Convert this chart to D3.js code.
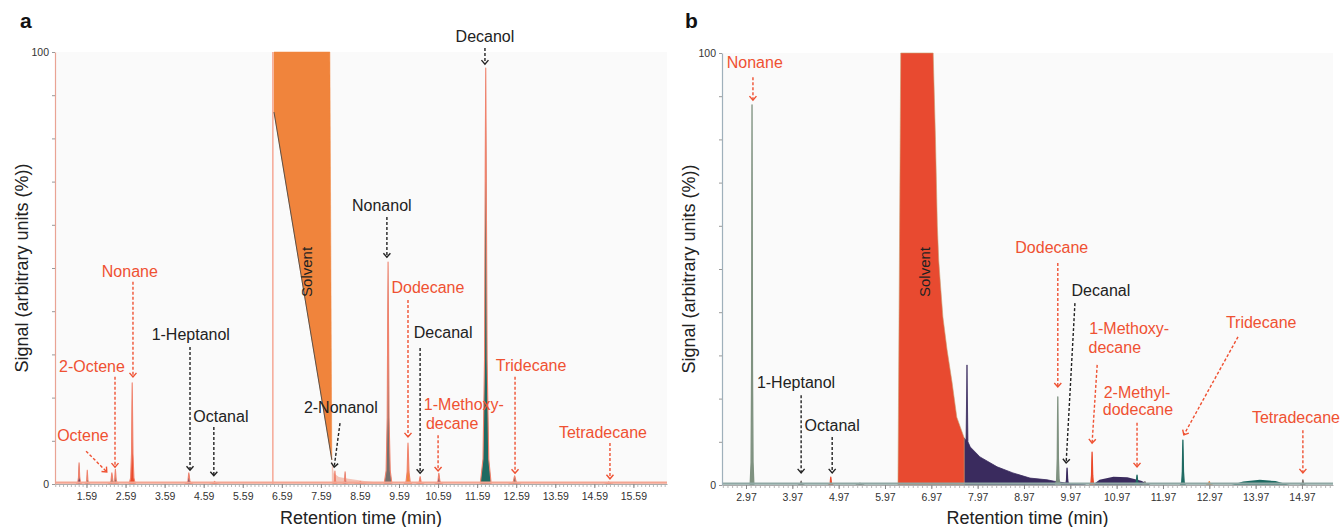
<!DOCTYPE html>
<html>
<head>
<meta charset="utf-8">
<script src="https://cdn.jsdelivr.net/npm/d3@7"></script>
<style>
	body { margin: 0; background: #fff; }
	text { font-family: "Liberation Sans", Arial, Helvetica, sans-serif; }
</style>
</head>
<body>
<svg id="chart" width="1340" height="527"></svg>
<script>

	// tick labels (retention time, min)
	var ticksA = [1.59, 2.59, 3.59, 4.59, 5.59, 6.59, 7.59, 8.59, 9.59, 10.59, 11.59, 12.59, 13.59, 14.59, 15.59];
	var ticksB = [2.97, 3.97, 4.97, 5.97, 6.97, 7.97, 8.97, 9.97, 10.97, 11.97, 12.97, 13.97, 14.97];
	var yLabels = [0, 100];

	// peaks: retention time (min), signal (%), half width (min), trace
	var peaksA = [
		{t: 1.40, h: 4.9, w: 0.07, s: "navy"},
		{t: 1.61, h: 3.2, w: 0.06, s: "teal"},
		{t: 2.24, h: 2.6, w: 0.10, s: "grey"},
		{t: 2.33, h: 3.4, w: 0.08, s: "grey"},
		{t: 2.76, h: 23.4, w: 0.08, s: "red"},
		{t: 4.21, h: 2.6, w: 0.10, s: "navy"},
		{t: 4.87, h: 0.6, w: 0.12, s: "grey"},
		{t: 7.95, h: 3.0, w: 0.05, s: "red"},
		{t: 8.21, h: 2.8, w: 0.06, s: "navy"},
		{t: 8.60, h: 0.6, w: 0.15, s: "grey"},
		{t: 9.31, h: 51.4, w: 0.10, s: "grey"},
		{t: 9.82, h: 9.5, w: 0.10, s: "orange"},
		{t: 10.13, h: 1.7, w: 0.10, s: "red"},
		{t: 10.61, h: 2.5, w: 0.10, s: "navy"},
		{t: 11.81, h: 96.3, w: 0.14, s: "teal"},
		{t: 12.55, h: 1.9, w: 0.15, s: "grey"},
		{t: 14.96, h: 0.5, w: 0.10, s: "grey"}
	];
	var solventA = [[6.39, 86.1], [6.39, 100], [7.82, 100], [7.87, 5.6]];
	var solventEdgeA = 6.36;
	var tailA = [[7.87, 0], [7.87, 5.6], [7.92, 2.5], [8.05, 1.6], [8.3, 1.2], [8.7, 0.7], [9.1, 0.3], [9.3, 0]];

	var peaksB = [
		{t: 3.10, h: 88.0, w: 0.04, s: "sage"},
		{t: 4.16, h: 0.9, w: 0.06, s: "grey"},
		{t: 4.80, h: 1.8, w: 0.05, s: "red"},
		{t: 5.43, h: 0.4, w: 0.08, s: "grey"},
		{t: 9.70, h: 20.4, w: 0.05, s: "sage"},
		{t: 9.90, h: 3.9, w: 0.05, s: "navy"},
		{t: 10.44, h: 7.6, w: 0.05, s: "red"},
		{t: 11.41, h: 2.3, w: 0.06, s: "teal"},
		{t: 11.58, h: 0.8, w: 0.05, s: "grey"},
		{t: 12.40, h: 10.4, w: 0.05, s: "teal"},
		{t: 12.97, h: 0.8, w: 0.06, s: "orange"},
		{t: 14.99, h: 1.2, w: 0.05, s: "grey"}
	];
	var solventB = [[6.25, 0], [6.31, 100], [7.01, 100], [7.06, 80], [7.10, 60], [7.13, 52], [7.17, 46],
		[7.22, 38.9], [7.31, 31.3], [7.42, 23.6], [7.52, 15.7], [7.68, 10.9], [7.68, 0]];
	var tailB = [[7.68, 0], [7.68, 10.9], [7.72, 10.3], [7.74, 27.8], [7.76, 10.0], [7.81, 8.8], [8.02, 6.5],
		[8.39, 4.2], [8.73, 2.8], [9.10, 1.6], [9.47, 1.2], [9.70, 0.7], [10.0, 0.3], [10.3, 0]];
	var humpsB = [
		{s: "navy", pts: [[10.45, 0], [10.6, 1.2], [10.9, 1.9], [11.2, 1.8], [11.5, 1.0], [11.7, 0]]},
		{s: "teal", pts: [[13.45, 0], [13.7, 0.8], [14.06, 1.2], [14.4, 0.9], [14.7, 0]]}
	];

	// annotations: kind "hc" = hydrocarbon (red), "ox" = alcohol / aldehyde (black)
	var labelsA = [
		{kind: "ox", lines: [["Decanol", 11.79, 103.5]], arrow: [11.79, 100.9, 11.79, 97.2]},
		{kind: "ox", lines: [["Nonanol", 9.15, 64.4]], arrow: [9.28, 61.8, 9.28, 52.5]},
		{kind: "hc", lines: [["Nonane", 2.70, 49.3]], arrow: [2.78, 46.8, 2.78, 24.8]},
		{kind: "hc", lines: [["2-Octene", 1.73, 27.3]], arrow: [2.32, 24.8, 2.32, 3.9]},
		{kind: "hc", lines: [["Octene", 1.50, 11.3]], arrow: [1.58, 7.6, 2.11, 2.8]},
		{kind: "ox", lines: [["1-Heptanol", 4.26, 34.5]], arrow: [4.24, 31.7, 4.24, 3.2]},
		{kind: "ox", lines: [["Octanal", 5.03, 15.7]], arrow: [4.85, 13.2, 4.85, 1.9]},
		{kind: "ox", lines: [["2-Nonanol", 8.10, 17.6]], arrow: [8.08, 14.1, 7.93, 3.9]},
		{kind: "hc", lines: [["Dodecane", 10.33, 45.6]], arrow: [9.82, 42.6, 9.82, 10.9]},
		{kind: "ox", lines: [["Decanal", 10.72, 35.0]], arrow: [10.13, 31.5, 10.13, 2.5]},
		{kind: "hc", lines: [["1-Methoxy-", 11.25, 18.3], ["decane", 10.95, 14.1]], arrow: [10.59, 11.3, 10.59, 3.0]},
		{kind: "hc", lines: [["Tridecane", 12.97, 27.5]], arrow: [12.56, 24.8, 12.56, 2.5]},
		{kind: "hc", lines: [["Tetradecane", 14.81, 12.0]], arrow: [14.99, 9.5, 14.99, 1.2]}
	];
	var labelsB = [
		{kind: "hc", lines: [["Nonane", 3.16, 97.7]], arrow: [3.12, 94.4, 3.12, 89.1]},
		{kind: "ox", lines: [["1-Heptanol", 4.05, 23.8]], arrow: [4.16, 20.8, 4.16, 2.8]},
		{kind: "ox", lines: [["Octanal", 4.83, 13.7]], arrow: [4.83, 11.1, 4.83, 2.8]},
		{kind: "hc", lines: [["Dodecane", 9.57, 54.9]], arrow: [9.70, 51.4, 9.70, 22.7]},
		{kind: "ox", lines: [["Decanal", 10.63, 45.1]], arrow: [10.07, 42.1, 9.88, 5.1]},
		{kind: "hc", lines: [["1-Methoxy-", 11.24, 36.3], ["decane", 10.93, 31.9]], arrow: [10.55, 27.8, 10.44, 9.7]},
		{kind: "hc", lines: [["2-Methyl-", 11.41, 21.5], ["dodecane", 11.43, 17.4]], arrow: [11.41, 14.4, 11.41, 4.2]},
		{kind: "hc", lines: [["Tridecane", 14.09, 37.7]], arrow: [13.59, 34.3, 12.42, 11.6]},
		{kind: "hc", lines: [["Tetradecane", 14.84, 15.7]], arrow: [14.99, 12.7, 14.99, 2.8]}
	];

	var COLORS = {
		red: "#ea4a2b", orange: "#f0843c", navy: "#3a2b5e", teal: "#1e6a62",
		grey: "#77706c", sage: "#7f9280"
	};
	var LABEL_COLORS = {hc: "#ef5132", ox: "#222"};

	var svg = d3.select("#chart");

	// arrow heads
	var defs = svg.append("defs");
	Object.keys(LABEL_COLORS).forEach(function(k) {
		defs.append("marker")
			.attr("id", "head_" + k)
			.attr("viewBox", "-6 -5 8 10")
			.attr("markerWidth", 8)
			.attr("markerHeight", 10)
			.attr("markerUnits", "userSpaceOnUse")
			.attr("orient", "auto")
			.append("path")
				.attr("d", "M-4,-3.5 L0,0 L-4,3.5")
				.attr("fill", "none")
				.attr("stroke", LABEL_COLORS[k])
				.attr("stroke-width", 1.4);
	});

	function peak_points(p) {
		var t = p.t, h = p.h, w = p.w;
		return [[t - w, 0], [t - 0.5*w, 0.06*h], [t - 0.22*w, 0.3*h], [t - 0.08*w, 0.8*h], [t, h],
			[t + 0.08*w, 0.8*h], [t + 0.25*w, 0.3*h], [t + 0.55*w, 0.06*h], [t + w, 0]];
	}

	function draw_panel(cfg) {

		var x = d3.scaleLinear().domain(cfg.domain).range([cfg.left, cfg.right]);
		var y = d3.scaleLinear().domain([0, 100]).range([cfg.bottom, cfg.top]);
		var line = d3.line().x(d => x(d[0])).y(d => y(d[1]));

		var g = svg.append("g");

		g.append("rect")
			.attr("x", cfg.left)
			.attr("y", cfg.top)
			.attr("width", cfg.right - cfg.left)
			.attr("height", cfg.bottom - cfg.top)
			.attr("fill", "#fafafa");

		cfg.draw_solvent(g, x, y, line);

		// peaks
		g.selectAll(".peak")
			.data(cfg.peaks)
			.enter()
			.append("path")
				.attr("class", "peak")
				.attr("d", d => line(peak_points(d)) + "Z")
				.attr("fill", d => COLORS[d.s])
				.attr("stroke", d => cfg.peakStroke || COLORS[d.s])
				.attr("stroke-linejoin", "round")
				.attr("stroke-width", cfg.peakStrokeWidth);

		// baseline trace
		g.append("path")
			.attr("d", line([[cfg.domain[0], 0.3], [cfg.domain[1], 0.3]]))
			.attr("stroke", cfg.baseColor)
			.attr("stroke-width", 2.2)
			.attr("fill", "none");

		// axes
		var minor = d3.range(-30, 160).map(k => cfg.ticks[0] + k*0.1)
			.filter(v => v >= cfg.domain[0] && v <= cfg.domain[1]);

		var xMinor = g.append("g")
			.attr("transform", "translate(0," + cfg.bottom + ")")
			.call(d3.axisBottom(x).tickValues(minor).tickSize(3).tickFormat(""));
		xMinor.select(".domain").remove();
		xMinor.selectAll("line").attr("stroke", "#999").attr("stroke-width", 0.7);

		var xAxis = g.append("g")
			.attr("transform", "translate(0," + cfg.bottom + ")")
			.call(d3.axisBottom(x).tickValues(cfg.ticks).tickSize(4).tickSizeOuter(0).tickFormat(d3.format(".2f")));
		xAxis.select(".domain").attr("stroke", "#aaa");
		xAxis.selectAll("line").attr("stroke", "#888");
		xAxis.selectAll("text")
			.attr("font-size", 10.5)
			.attr("fill", "#333")
			.attr("dy", "0.9em");

		var yAxis = g.append("g")
			.attr("transform", "translate(" + cfg.left + ",0)")
			.call(d3.axisLeft(y).tickValues(d3.range(0, 101, 10)).tickSize(3).tickSizeOuter(0)
				.tickFormat(d => yLabels.includes(d) ? d : ""));
		yAxis.select(".domain").attr("stroke", cfg.yAxisColor).attr("stroke-width", 1.2);
		yAxis.selectAll("line").attr("stroke", "#999");
		yAxis.selectAll("text").attr("font-size", 10.5).attr("fill", "#333");

		// titles
		g.append("text")
			.attr("x", (cfg.left + cfg.right)/2)
			.attr("y", 524)
			.attr("text-anchor", "middle")
			.attr("font-size", 18)
			.attr("fill", "#222")
			.text("Retention time (min)");

		g.append("text")
			.attr("transform", "translate(" + (cfg.left - 27) + "," + ((cfg.top + cfg.bottom)/2) + ") rotate(-90)")
			.attr("text-anchor", "middle")
			.attr("font-size", 18)
			.attr("fill", "#222")
			.text("Signal (arbitrary units (%))");

		g.append("text")
			.attr("x", cfg.letterX)
			.attr("y", 28)
			.attr("font-size", 21)
			.attr("font-weight", "bold")
			.attr("fill", "#111")
			.text(cfg.letter);

		// solvent label
		g.append("text")
			.attr("transform", "translate(" + x(cfg.solventLabel[0]) + "," + y(cfg.solventLabel[1]) + ") rotate(-90)")
			.attr("text-anchor", "middle")
			.attr("dominant-baseline", "central")
			.attr("font-size", 15)
			.attr("fill", "#222")
			.text("Solvent");

		// annotations
		var ann = g.selectAll(".ann")
			.data(cfg.labels)
			.enter()
			.append("g")
				.attr("class", "ann");

		ann.append("line")
			.attr("x1", d => x(d.arrow[0]))
			.attr("y1", d => y(d.arrow[1]))
			.attr("x2", d => x(d.arrow[2]))
			.attr("y2", d => y(d.arrow[3]))
			.attr("stroke", d => LABEL_COLORS[d.kind])
			.attr("stroke-width", 1.4)
			.attr("stroke-dasharray", "3,2")
			.attr("marker-end", d => "url(#head_" + d.kind + ")");

		ann.selectAll("text")
			.data(d => d.lines.map(l => ({txt: l[0], t: l[1], h: l[2], kind: d.kind})))
			.enter()
			.append("text")
				.attr("x", d => x(d.t))
				.attr("y", d => y(d.h))
				.attr("text-anchor", "middle")
				.attr("dominant-baseline", "central")
				.attr("font-size", 16)
				.attr("fill", d => LABEL_COLORS[d.kind])
				.text(d => d.txt);
	}

	draw_panel({
		letter: "a", letterX: 20,
		left: 55, right: 667, top: 52, bottom: 484,
		domain: [0.784, 16.45],
		ticks: ticksA, peaks: peaksA, labels: labelsA,
		peakStroke: "#f0826c", peakStrokeWidth: 1.1, baseColor: "#f4a592", yAxisColor: "#e9a394",
		solventLabel: [7.22, 49.1],
		draw_solvent: function(g, x, y, line) {
			g.append("path")
				.attr("d", line([[solventEdgeA, 0], [solventEdgeA, 100]]))
				.attr("stroke", "#f6ad9c")
				.attr("stroke-width", 1.6);
			g.append("path")
				.attr("d", line(tailA) + "Z")
				.attr("fill", "#f3c4b8");
			g.append("path")
				.attr("d", line(solventA) + "Z")
				.attr("fill", "#f0843c")
				.attr("stroke", "#f0843c")
				.attr("stroke-width", 0.5);
			g.append("path")
				.attr("d", line([solventA[0], solventA[3]]))
				.attr("stroke", "#5a5048")
				.attr("stroke-width", 1);
		}
	});

	draw_panel({
		letter: "b", letterX: 685,
		left: 722, right: 1333, top: 53, bottom: 485,
		domain: [2.452, 15.64],
		ticks: ticksB, peaks: peaksB, labels: labelsB,
		peakStroke: null, peakStrokeWidth: 1.3, baseColor: "#8fa8a4", yAxisColor: "#9fb0bb",
		solventLabel: [6.83, 49.3],
		draw_solvent: function(g, x, y, line) {
			humpsB.forEach(function(hm) {
				g.append("path")
					.attr("d", line(hm.pts) + "Z")
					.attr("fill", COLORS[hm.s]);
			});
			g.append("path")
				.attr("d", line(tailB) + "Z")
				.attr("fill", "#3a2b5e")
				.attr("stroke", "#3a2b5e")
				.attr("stroke-width", 0.8);
			g.append("path")
				.attr("d", line(solventB) + "Z")
				.attr("fill", "#e84a30")
				.attr("stroke", "#c9a070")
				.attr("stroke-width", 0.6);
		}
	});

</script>
</body>
</html>
